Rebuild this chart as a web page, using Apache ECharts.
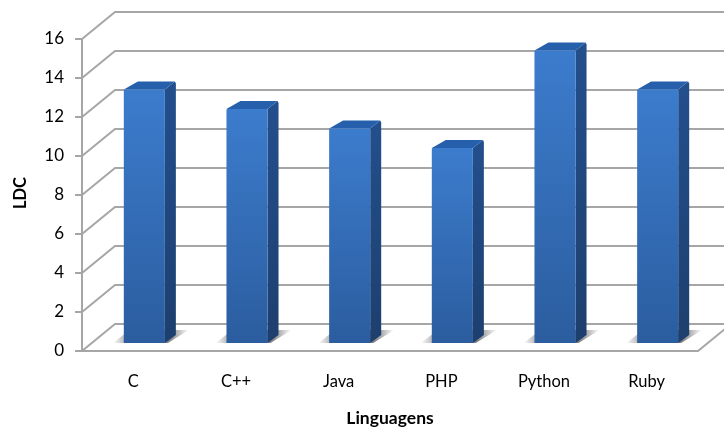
<!DOCTYPE html>
<html><head><meta charset="utf-8">
<style>html,body{margin:0;padding:0;background:#fff}#c{width:724px;height:427px}</style>
<script src="https://cdn.jsdelivr.net/npm/echarts@6/dist/echarts.min.js"></script>
</head><body><div id="c"></div>
<script>
const categories = ["C","C++","Java","PHP","Python","Ruby"];
const ldcValues = [13,12,11,10,15,13];
const yTicks = [0,2,4,6,8,10,12,14,16];

const wallDx = 33, wallDy = -27;
const barDx = 11, barDy = -8, depthX = 11, depthY = -8;
const gridColor = '#a6a6a6';
const font = 'Lato';

function vGrad(a,b){return {type:'linear',x:0,y:0,x2:0,y2:1,colorStops:[{offset:0,color:a},{offset:1,color:b}]};}
const shadowGrad = {type:'linear',x:0,y:0,x2:1,y2:0,colorStops:[
  {offset:0,color:'#ffffff'},{offset:0.25,color:'#8e8e8e'},{offset:0.74,color:'#808080'},{offset:1,color:'#ffffff'}]};

const chart = echarts.init(document.getElementById('c'),null,{renderer:'canvas'});
chart.setOption({
  animation:false,
  backgroundColor:'#fff',
  grid:{left:82,right:26,top:39,bottom:76,containLabel:false,outerBoundsMode:'none'},
  xAxis:{type:'category',data:categories,
    axisLine:{show:true,lineStyle:{color:gridColor,width:2}},
    axisTick:{show:false},
    axisLabel:{fontFamily:font,fontSize:16.5,color:'#000',margin:22},
    name:'Linguagens',nameLocation:'middle',nameGap:58,
    nameTextStyle:{fontFamily:font,fontSize:17.5,fontWeight:'bold',color:'#000'}},
  yAxis:{type:'value',min:0,max:16,interval:2,
    axisLine:{show:true,lineStyle:{color:gridColor,width:2}},
    axisTick:{show:true,length:7,lineStyle:{color:gridColor,width:2}},
    splitLine:{show:false},
    axisLabel:{fontFamily:font,fontSize:17,color:'#000',margin:18},
    name:'LDC',nameLocation:'middle',nameGap:53,
    nameTextStyle:{fontFamily:font,fontSize:16.5,fontWeight:'bold',color:'#000',padding:[0,0,0,4]}},
  series:[
    {type:'custom',coordinateSystem:'cartesian2d',z:1,clip:false,silent:true,
     data:yTicks.map(v=>[0,v]),encode:{x:0,y:1},
     renderItem(params,api){
       const cs=params.coordSys, y=api.coord([0,api.value(1)])[1];
       const left=cs.x, right=cs.x+cs.width;
       const st={stroke:gridColor,lineWidth:2,fill:null};
       const kids=[
         {type:'polyline',shape:{points:[[left,y],[left+wallDx,y+wallDy],[right+wallDx,y+wallDy]]},style:st}
       ];
       if(api.value(1)===0){
         kids.push({type:'line',shape:{x1:right,y1:y,x2:right+wallDx,y2:y+wallDy},style:st});
       }
       return {type:'group',children:kids};
     }},
    {type:'custom',coordinateSystem:'cartesian2d',z:3,clip:false,silent:true,
     data:categories.map((c,i)=>[i,ldcValues[i]]),encode:{x:0,y:1},
     renderItem(params,api){
       const i=api.value(0), v=api.value(1);
       const base=api.coord([i,0]), top=api.coord([i,v]);
       const w=api.size([1,0])[0]*0.4;
       const x0=base[0]+barDx-w/2, x1=x0+w, yb=base[1]+barDy, yt=top[1]+barDy;
       return {type:'group',children:[
         {type:'polygon',z2:0,shape:{points:[[x0-11,yb],[x1+3,yb],[x1+24,yb-13],[x0+6,yb-13]]},
          style:{fill:shadowGrad}},
         {type:'polygon',z2:1,shape:{points:[[x1,yb],[x1+depthX,yb+depthY],[x1+depthX,yt+depthY+2],[x1+depthX-1,yt+depthY],[x1,yt]]},
          style:{fill:vGrad('#234f8d','#1d3f6e')}},
         {type:'polygon',z2:1,shape:{points:[[x0,yt],[x1,yt],[x1+depthX-1,yt+depthY],[x0+depthX+3,yt+depthY]]},
          style:{fill:'#2660ad'}},
         {type:'rect',z2:2,shape:{x:x0,y:yt,width:w,height:yb-yt,r:[1,1,0,0]},
          style:{fill:vGrad('#3c7ccd','#2b5d9f')}}
       ]};
     }}
  ]
});
</script></body></html>
